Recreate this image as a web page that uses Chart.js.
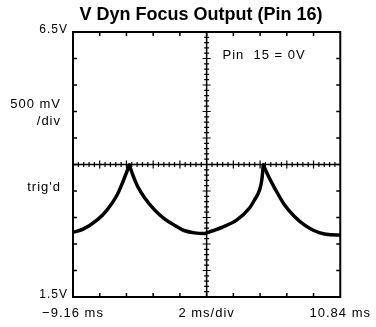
<!DOCTYPE html>
<html><head><meta charset="utf-8">
<script src="https://cdn.jsdelivr.net/npm/chart.js@4/dist/chart.umd.min.js"></script>
<style>html,body{margin:0;padding:0;background:#fff}</style>
</head><body>
<canvas id="c" width="376" height="327" style="display:block;width:376px;height:327px"></canvas>
<script>
// ---- data ----
const titleText = 'V Dyn Focus Output (Pin 16)';
const timeMs = [-9.16,-8.41,-7.37,-6.62,-5.87,-5.43,-5.20,-4.94,-4.68,-4.31,-3.79,-3.04,-2.29,-1.55,-0.80,-0.06,0.69,1.06,2.03,3.08,4.05,4.42,4.80,4.97,5.08,5.54,5.92,6.66,7.41,8.15,8.90,9.65,10.62,10.84];
const volts  = [2.72,2.78,2.95,3.14,3.42,3.67,3.82,3.99,3.80,3.58,3.37,3.14,2.97,2.85,2.75,2.71,2.70,2.73,2.82,2.95,3.18,3.33,3.52,3.71,3.99,3.74,3.56,3.24,3.02,2.86,2.75,2.69,2.67,2.67];
const xTickValues = [-9.16, 0.84, 10.84];
const xTickLabels = ['\u22129.16 ms', '2 ms/div', '10.84 ms'];
const yTickValues = [1.5, 6.5];
const yTickLabels = ['1.5V', '6.5V'];
const xMin = -9.16, xMax = 10.84, xDiv = 2;
const yMin = 1.5, yMax = 6.5, yDiv = 0.5;
const sideNotes = [['500 mV', 5.06], ['/div', 4.74], ["trig'd", 3.5]];
const cornerNote = ['Pin  15 = 0V', 2.03, 6.0];

const INK = '#000';

// split the trace at its cusps (local maxima) so each arc is drawn smooth
const cusps = volts.map((v, i) => i > 0 && i < volts.length - 1 && v > volts[i - 1] && v > volts[i + 1] ? i : -1).filter(i => i >= 0);
const bounds = [0, ...cusps, volts.length - 1];
const arcs = [];
for (let k = 0; k < bounds.length - 1; k++) {
  const pts = [];
  for (let i = bounds[k]; i <= bounds[k + 1]; i++) pts.push({ x: timeMs[i], y: volts[i] });
  arcs.push(pts);
}

const scopePlugin = {
  id: 'scope',
  beforeDraw(chart) {
    chart.ctx.letterSpacing = '1px';
  },
  afterDraw(chart) {
    const ctx = chart.ctx, xs = chart.scales.x, ys = chart.scales.y;
    const L = xs.getPixelForValue(xMin), R = xs.getPixelForValue(xMax);
    const T = ys.getPixelForValue(yMax), B = ys.getPixelForValue(yMin);
    const cx = xs.getPixelForValue((xMin + xMax) / 2), cy = ys.getPixelForValue((yMin + yMax) / 2);
    ctx.save();
    ctx.strokeStyle = INK; ctx.fillStyle = INK;
    ctx.lineWidth = 2;
    ctx.strokeRect(L, T, R - L, B - T);
    ctx.lineWidth = 1.5;
    ctx.beginPath();
    ctx.moveTo(L, cy); ctx.lineTo(R, cy);
    ctx.moveTo(cx, T); ctx.lineTo(cx, B);
    ctx.stroke();
    ctx.lineWidth = 1.5;
    ctx.beginPath();
    for (let i = 1; i < 10; i++) {
      const x = xs.getPixelForValue(xMin + i * xDiv);
      ctx.moveTo(x, T); ctx.lineTo(x, T + 4);
      ctx.moveTo(x, B); ctx.lineTo(x, B - 4);
      const y = ys.getPixelForValue(yMin + i * yDiv);
      ctx.moveTo(L, y); ctx.lineTo(L + 4, y);
      ctx.moveTo(R, y); ctx.lineTo(R - 4, y);
    }
    ctx.stroke();
    ctx.lineWidth = 1.2;
    ctx.beginPath();
    for (let i = 1; i < 50; i++) {
      const major = i % 5 === 0;
      const h = major ? 4 : 2.5;
      const x = xs.getPixelForValue(xMin + i * xDiv / 5);
      ctx.moveTo(x, cy - h); ctx.lineTo(x, cy + h);
      const y = ys.getPixelForValue(yMin + i * yDiv / 5);
      ctx.moveTo(cx - h, y); ctx.lineTo(cx + h, y);
    }
    ctx.stroke();
    ctx.letterSpacing = '0px';
    ctx.font = 'bold 18px "Liberation Sans", Arial, sans-serif';
    ctx.textAlign = 'center'; ctx.textBaseline = 'alphabetic';
    ctx.fillText(titleText, 201, 19.5);
    ctx.letterSpacing = '1px';
    ctx.font = '13px "Liberation Sans", Arial, sans-serif';
    ctx.textAlign = 'right';
    for (const [t, v] of sideNotes) ctx.fillText(t, 61, ys.getPixelForValue(v));
    ctx.textAlign = 'left';
    ctx.fillText(cornerNote[0], xs.getPixelForValue(cornerNote[1]), ys.getPixelForValue(cornerNote[2]));
    ctx.restore();
  }
};

new Chart(document.getElementById('c'), {
  type: 'line',
  data: {
    datasets: arcs.map(pts => ({
      data: pts,
      borderColor: INK, borderWidth: 3.5, pointRadius: 0,
      cubicInterpolationMode: 'monotone',
      borderJoinStyle: 'round', borderCapStyle: 'round', fill: false
    }))
  },
  options: {
    responsive: false, animation: false, devicePixelRatio: 1,
    layout: { padding: { left: 0, right: 35, top: 32, bottom: 0 } },
    plugins: { legend: { display: false }, tooltip: { enabled: false }, title: { display: false } },
    scales: {
      x: {
        type: 'linear', min: xMin, max: xMax,
        afterBuildTicks: s => { s.ticks = xTickValues.map(v => ({ value: v })); },
        afterFit: s => { s.height = 30; },
        grid: { display: false, drawTicks: false }, border: { display: false },
        ticks: { color: INK, padding: 9, maxRotation: 0, autoSkip: false,
          font: { family: '"Liberation Sans", Arial, sans-serif', size: 13 },
          callback: (v, i) => xTickLabels[i] }
      },
      y: {
        type: 'linear', min: yMin, max: yMax,
        afterBuildTicks: s => { s.ticks = yTickValues.map(v => ({ value: v })); },
        afterFit: s => { s.width = 73; },
        grid: { display: false, drawTicks: false }, border: { display: false },
        ticks: { color: INK, padding: 5, labelOffset: -2, autoSkip: false,
          font: { family: '"Liberation Sans", Arial, sans-serif', size: 12 },
          callback: (v, i) => yTickLabels[i] }
      }
    }
  },
  plugins: [scopePlugin]
});
</script>
</body></html>
